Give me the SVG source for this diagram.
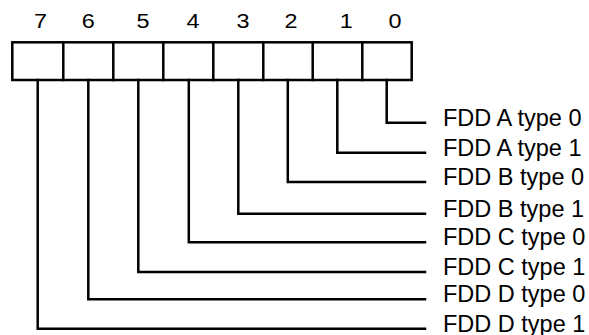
<svg xmlns="http://www.w3.org/2000/svg" width="589" height="335" viewBox="0 0 589 335">
<style>
.ln{fill:none;stroke:#000;stroke-width:2.5;stroke-linejoin:miter;stroke-linecap:square}
.dg{font-family:"Liberation Sans",Arial,sans-serif;font-size:19.5px;fill:#000;text-anchor:middle}
.lb{font-family:"Liberation Sans",Arial,sans-serif;font-size:23.5px;fill:#000}
</style>
<rect width="589" height="335" fill="#fff"/>
<g id="register">
<rect class="ln" x="12.3" y="42.3" width="399.4" height="37.7"/>
<path class="ln" d="M63.3 42.3V80M113.3 42.3V80M163.3 42.3V80M213.3 42.3V80M263.3 42.3V80M312.7 42.3V80M362.3 42.3V80"/>
</g>
<g id="bit-numbers">
<text class="dg" transform="translate(40.5 28.3) scale(1.2 1)">7</text>
<text class="dg" transform="translate(88.2 28.3) scale(1.2 1)">6</text>
<text class="dg" transform="translate(143 28.3) scale(1.2 1)">5</text>
<text class="dg" transform="translate(193 28.3) scale(1.2 1)">4</text>
<text class="dg" transform="translate(243 28.3) scale(1.2 1)">3</text>
<text class="dg" transform="translate(291 28.3) scale(1.2 1)">2</text>
<text class="dg" transform="translate(346.2 28.3) scale(1.2 1)">1</text>
<text class="dg" transform="translate(395 28.3) scale(1.2 1)">0</text>
</g>
<g id="connectors">
<path class="ln" d="M386.7 80V122.7H425"/>
<path class="ln" d="M337.3 80V152.7H425"/>
<path class="ln" d="M287.8 80V182H425"/>
<path class="ln" d="M238.3 80V213.7H425"/>
<path class="ln" d="M188.8 80V242.3H425"/>
<path class="ln" d="M138.3 80V272H425"/>
<path class="ln" d="M88.3 80V299.2H425"/>
<path class="ln" d="M37.7 80V328.7H425"/>
</g>
<g id="labels">
<text class="lb" x="443" y="125.7">FDD A type 0</text>
<text class="lb" x="443" y="155.7">FDD A type 1</text>
<text class="lb" x="443" y="185">FDD B type 0</text>
<text class="lb" x="443" y="216.7">FDD B type 1</text>
<text class="lb" x="443" y="245.3">FDD C type 0</text>
<text class="lb" x="443" y="275">FDD C type 1</text>
<text class="lb" x="443" y="302.2">FDD D type 0</text>
<text class="lb" x="443" y="331.7">FDD D type 1</text>
</g>
</svg>
